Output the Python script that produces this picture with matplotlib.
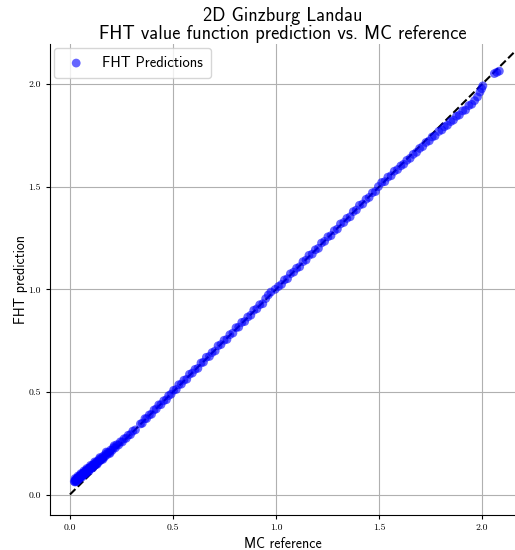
import matplotlib
matplotlib.use("Agg")
from matplotlib import pyplot as plt

# MC reference values (x) and FHT predictions (y)
mc_low = [0.021, 0.024, 0.026, 0.028, 0.030, 0.031, 0.033, 0.035, 0.036, 0.038,
          0.040, 0.041, 0.043, 0.045, 0.047, 0.048, 0.050, 0.052, 0.054, 0.055,
          0.057, 0.059, 0.061, 0.063, 0.065, 0.067, 0.069, 0.071, 0.073, 0.076,
          0.078, 0.080, 0.083, 0.085, 0.088, 0.090, 0.093, 0.096, 0.099, 0.102,
          0.105, 0.108, 0.112, 0.115, 0.119, 0.122, 0.126, 0.130, 0.134, 0.138,
          0.143, 0.147, 0.152, 0.157, 0.162, 0.168, 0.173, 0.179, 0.185, 0.191,
          0.198, 0.205, 0.212, 0.220, 0.228, 0.236, 0.245, 0.254, 0.263, 0.273,
          0.283, 0.294]
fht_low = [0.064, 0.061, 0.070, 0.066, 0.073, 0.068, 0.076, 0.071, 0.079, 0.074,
           0.082, 0.077, 0.085, 0.080, 0.088, 0.083, 0.091, 0.086, 0.094, 0.089,
           0.097, 0.092, 0.100, 0.095, 0.104, 0.098, 0.107, 0.101, 0.110, 0.106,
           0.115, 0.109, 0.119, 0.113, 0.124, 0.118, 0.128, 0.122, 0.133, 0.128,
           0.138, 0.132, 0.144, 0.139, 0.150, 0.144, 0.156, 0.151, 0.163, 0.158,
           0.171, 0.165, 0.178, 0.174, 0.187, 0.183, 0.196, 0.193, 0.206, 0.203,
           0.217, 0.215, 0.229, 0.227, 0.243, 0.241, 0.257, 0.256, 0.272, 0.274,
           0.289, 0.292]

# extra low-range points, wider spread around the band
mc_low2 = [0.025, 0.032, 0.039, 0.046, 0.053, 0.060, 0.068, 0.075, 0.082, 0.092,
           0.100, 0.110, 0.120, 0.132, 0.145, 0.160, 0.176, 0.194, 0.215]
fht_low2 = [0.078, 0.062, 0.090, 0.074, 0.102, 0.086, 0.115, 0.099, 0.127, 0.113,
            0.142, 0.129, 0.159, 0.147, 0.180, 0.171, 0.207, 0.200, 0.238]

mc_mid = [0.305, 0.318, 0.342, 0.351, 0.364, 0.372, 0.385, 0.396, 0.408, 0.419,
          0.431, 0.442, 0.455, 0.468, 0.479, 0.491, 0.503, 0.516, 0.528, 0.541,
          0.553, 0.567, 0.580, 0.594, 0.607, 0.621, 0.636, 0.648, 0.662, 0.677,
          0.690, 0.705, 0.719, 0.733, 0.748, 0.762, 0.776, 0.791, 0.806, 0.819,
          0.834, 0.848, 0.863, 0.878, 0.892, 0.907, 0.921, 0.936, 0.950, 0.963,
          0.975, 0.996, 1.012, 1.027, 1.041, 1.056, 1.070, 1.086, 1.100, 1.115,
          1.131, 1.146, 1.160, 1.176, 1.191, 1.206, 1.221, 1.236, 1.252, 1.267,
          1.283, 1.298, 1.313, 1.329, 1.344, 1.360, 1.375, 1.390, 1.405, 1.421,
          1.437, 1.452, 1.468, 1.483, 1.497, 1.513, 1.528, 1.543, 1.559, 1.574,
          1.590]
fht_mid = [0.309, 0.315, 0.344, 0.347, 0.370, 0.370, 0.388, 0.391, 0.412, 0.417,
           0.437, 0.438, 0.457, 0.462, 0.482, 0.489, 0.508, 0.512, 0.535, 0.538,
           0.557, 0.562, 0.586, 0.592, 0.610, 0.615, 0.641, 0.645, 0.669, 0.673,
           0.692, 0.700, 0.725, 0.731, 0.752, 0.756, 0.779, 0.787, 0.813, 0.816,
           0.839, 0.843, 0.865, 0.874, 0.898, 0.905, 0.925, 0.930, 0.955, 0.973,
           0.987, 1.000, 1.014, 1.024, 1.046, 1.052, 1.076, 1.084, 1.103, 1.110,
           1.135, 1.143, 1.166, 1.172, 1.193, 1.200, 1.226, 1.234, 1.256, 1.262,
           1.286, 1.294, 1.319, 1.326, 1.346, 1.354, 1.379, 1.387, 1.410, 1.416,
           1.439, 1.448, 1.471, 1.477, 1.501, 1.521, 1.525, 1.547, 1.554, 1.576,
           1.584]

mc_high = [1.606, 1.620, 1.635, 1.651, 1.666, 1.682, 1.697, 1.712, 1.728, 1.744,
           1.758, 1.772, 1.790, 1.805, 1.817, 1.832, 1.848, 1.861, 1.876, 1.890,
           1.906, 1.920, 1.936, 1.950, 1.964, 1.978, 1.990, 1.998, 2.004, 2.060,
           2.072, 2.084]
fht_high = [1.602, 1.610, 1.629, 1.639, 1.658, 1.668, 1.687, 1.696, 1.716, 1.724,
            1.743, 1.748, 1.770, 1.777, 1.793, 1.800, 1.818, 1.825, 1.844, 1.850,
            1.870, 1.874, 1.896, 1.902, 1.920, 1.938, 1.962, 1.978, 1.992, 2.052,
            2.058, 2.064]

mc_ref = mc_low + mc_low2 + mc_mid + mc_high
fht_pred = fht_low + fht_low2 + fht_mid + fht_high
diag = [0.0, 2.3]

fig = plt.figure(figsize=(5.15, 5.5), dpi=100)
ax = fig.add_axes([0.097, 0.0636, 0.903, 0.856])

ax.plot(diag, diag, color='black', linestyle='--', linewidth=1.5, zorder=2)
ax.scatter(mc_ref, fht_pred, s=40, color='blue', alpha=0.6, edgecolors='none',
           label="FHT Predictions", zorder=3)

ax.set_xlim(-0.097, 2.16)
ax.set_ylim(-0.10, 2.195)
ax.set_xticks([0.0, 0.5, 1.0, 1.5, 2.0])
ax.set_yticks([0.0, 0.5, 1.0, 1.5, 2.0])
ax.grid(True, color='#b0b0b0', linewidth=0.8)
ax.set_axisbelow(True)

for lab in ax.get_xticklabels() + ax.get_yticklabels():
    lab.set_fontfamily('cmr10')
    lab.set_fontsize(7)
ax.tick_params(length=3, width=0.8)

ax.spines['top'].set_visible(False)
ax.spines['right'].set_visible(False)

ax.set_xlabel("MC reference", fontfamily='cmss10', fontsize=10, labelpad=3)
ax.set_ylabel("FHT prediction", fontfamily='cmss10', fontsize=10, labelpad=0.5)
ax.set_title("2D Ginzburg Landau\nFHT value function prediction vs. MC reference",
             fontfamily='cmss10', fontsize=13.2, linespacing=1.0, pad=4)
ax.legend(loc="upper left", prop={'family': 'cmss10', 'size': 10.5},
          borderpad=0.55, borderaxespad=0.25)

fig.savefig("out.png", dpi=100)
